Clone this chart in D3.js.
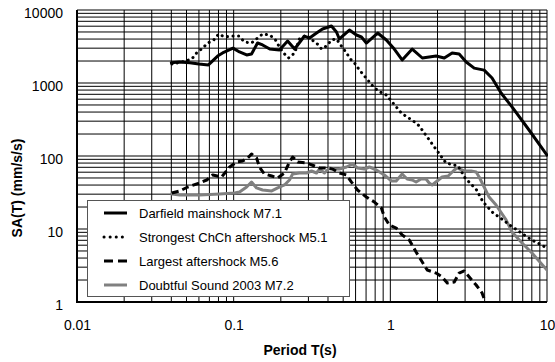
<!DOCTYPE html>
<html><head><meta charset="utf-8">
<script src="https://cdn.jsdelivr.net/npm/d3@7"></script>
<style>
html,body{margin:0;padding:0;background:#fff;}
svg{display:block;font-family:Arial,"Liberation Sans",sans-serif;}
</style></head>
<body>
<svg id="c" width="555" height="362"></svg>
<script>
// ---- data ----
const darfieldT  = [0.04,0.045,0.0525,0.06,0.069,0.079,0.085,0.099,0.109,0.121,0.13,0.142,0.153,0.17,0.182,0.196,0.221,0.245,0.283,0.305,0.338,0.369,0.421,0.453,0.473,0.548,0.607,0.654,0.703,0.83,0.943,1.06,1.19,1.38,1.6,1.96,2.21,2.48,2.75,3.05,3.43,3.97,4.46,5.09,5.98,7.68,10];
const darfieldSA = [1900,1940,1900,1820,1770,2340,2580,3000,2660,2420,2500,3530,3320,2920,2880,2830,3760,2920,4400,4130,4840,5490,6040,5000,4010,5320,4545,4270,3530,4840,3880,2920,2070,2920,2200,2340,2200,2580,2500,1940,1600,1500,1170,730,470,227,103];

const chchT  = [0.0403,0.0467,0.054,0.058,0.0635,0.0683,0.0746,0.0802,0.0877,0.097,0.1076,0.1175,0.13,0.142,0.153,0.17,0.185,0.196,0.208,0.224,0.245,0.263,0.292,0.309,0.338,0.364,0.391,0.421,0.453,0.487,0.525,0.556,0.598,0.635,0.683,0.735,0.791,0.863,0.943,1.015,1.175,1.28,1.40,1.53,1.85,2.27,2.71,3.0,3.53,3.91,4.53,4.94,5.9,7.8,10];
const chchSA = [1820,1940,2130,2580,3015,3530,3880,4690,4270,4400,4400,3645,3530,4130,4690,4545,3880,3110,2580,2200,2580,4010,4545,4010,3530,2920,3210,3880,4010,3210,2580,2130,1820,1507,1247,1032,854,753,685,567,388,342,302,258,146,80,73,50,35,23.4,16.6,14.6,11,7.3,5.5];

const largestT  = [0.0403,0.0453,0.0509,0.0607,0.0673,0.0735,0.0838,0.0943,0.1045,0.114,0.123,0.130,0.140,0.146,0.157,0.175,0.191,0.211,0.227,0.238,0.256,0.292,0.328,0.353,0.391,0.427,0.473,0.525,0.565,0.617,0.703,0.791,0.877,0.916,0.986,1.09,1.19,1.32,1.46,1.57,1.72,1.96,2.14,2.31,2.56,2.75,2.96,3.19,3.53,3.85,4.08];
const largestSA = [31.1,33.2,37.6,42.7,46.9,54.9,51.6,70.7,82.7,85.4,93.9,106.5,93.9,70.7,56.7,53.2,50,58.5,82.7,96.9,82.7,80.2,72.9,68.5,68.5,66.4,58.5,54.9,44,34.2,27.4,23.4,19.4,14.6,11.3,10.3,8.3,7.07,4.84,3.76,2.74,2.49,2.2,1.82,1.88,2.49,2.66,2.2,1.71,1.33,0.95];

const doubtfulT  = [0.0403,0.0453,0.0607,0.0815,0.1015,0.109,0.121,0.130,0.140,0.153,0.175,0.191,0.211,0.227,0.238,0.263,0.292,0.314,0.338,0.353,0.380,0.409,0.440,0.473,0.525,0.573,0.617,0.683,0.735,0.814,0.916,1.015,1.09,1.19,1.28,1.38,1.46,1.57,1.69,1.77,1.85,1.99,2.14,2.34,2.56,2.67,2.96,3.28,3.53,3.69,3.97,4.27,4.73,5.48,5.98,6.93,8.02,10];
const doubtfulSA = [30.2,29.2,29.2,30.2,31.1,32.1,37.6,44,36.5,34.2,33.2,36.5,40.1,46.9,56.7,58.5,58.5,62.3,58.5,66.4,58.5,68.5,66.4,66.4,70.7,77.7,68.5,66.4,70.7,64.3,54.9,45.5,45.5,56.7,48.4,46.9,44,48.4,48.4,42.7,40.1,45.5,51.6,53.2,64.3,68.5,62.3,62.3,60.4,51.6,37.6,27.4,21.3,13.3,9.1,6.43,4.69,2.74];

const xTickVals = [0.01,0.1,1,10];
const xTickLabels = ["0.01","0.1","1","10"];
const yTickVals = [1,10,100,1000,10000];
const yTickLabels = ["1","10","100","1000","10000"];
const legendLabels = ["Darfield mainshock M7.1","Strongest ChCh aftershock M5.1","Largest aftershock M5.6","Doubtful Sound 2003 M7.2"];

// ---- chart ----
const svg = d3.select("#c");
const L=77,R=547,T=10,B=302;
const x = d3.scaleLog().domain([0.01,10]).range([L,R]);
const y = d3.scaleLog().domain([1,10000]).range([B,T]);

// grid values
const gx=[],gy=[];
for(let e=-2;e<1;e++) for(let m=1;m<10;m++) gx.push(m*Math.pow(10,e));
gx.push(10);
for(let e=0;e<4;e++) for(let m=1;m<10;m++) gy.push(m*Math.pow(10,e));
gy.push(10000);

const grid = svg.append("g");
grid.selectAll("line.v").data(gx).enter().append("line")
  .attr("x1",d=>x(d)).attr("x2",d=>x(d)).attr("y1",T).attr("y2",B)
  .attr("stroke","#000").attr("stroke-width",1);
grid.selectAll("line.h").data(gy).enter().append("line")
  .attr("y1",d=>y(d)).attr("y2",d=>y(d)).attr("x1",L).attr("x2",R)
  .attr("stroke","#000").attr("stroke-width",1);

// axes lines
svg.append("line").attr("x1",L).attr("x2",L).attr("y1",T).attr("y2",B+1).attr("stroke","#000").attr("stroke-width",2);
svg.append("line").attr("x1",L-1).attr("x2",R).attr("y1",B).attr("y2",B).attr("stroke","#000").attr("stroke-width",2);

// tick labels
const xa = svg.append("g").attr("transform",`translate(0,${B})`)
  .call(d3.axisBottom(x).tickValues(xTickVals).tickSize(0).tickPadding(18)
    .tickFormat((d,i)=>xTickLabels[i]));
xa.select(".domain").remove();
xa.selectAll("text").attr("font-size",14).attr("font-family","Arial, 'Liberation Sans', sans-serif").attr("fill","#000");

const ya = svg.append("g").attr("transform",`translate(${L},0)`)
  .call(d3.axisLeft(y).tickValues(yTickVals).tickSize(0).tickPadding(14)
    .tickFormat((d,i)=>yTickLabels[i]));
ya.select(".domain").remove();
ya.selectAll("text").attr("font-size",14).attr("dy","0.5em").attr("font-family","Arial, 'Liberation Sans', sans-serif").attr("fill","#000");

// axis titles
svg.append("text").attr("x",300).attr("y",355).attr("text-anchor","middle")
  .attr("font-size",14).attr("font-weight","bold").text("Period T(s)");
svg.append("text").attr("transform","translate(22,188) rotate(-90)").attr("text-anchor","middle")
  .attr("font-size",14).attr("font-weight","bold").text("SA(T) (mm/s/s)");

// clip
svg.append("clipPath").attr("id","clip").append("rect").attr("x",L).attr("y",T).attr("width",R-L+1).attr("height",B-T);
const plot = svg.append("g").attr("clip-path","url(#clip)");
const line = d3.line().x(d=>x(d[0])).y(d=>y(d[1]));

const series = [
  {t:darfieldT, v:darfieldSA, color:"#000", dash:null, cap:"round"},
  {t:chchT, v:chchSA, color:"#000", dash:"0.1,5.5", cap:"round"},
  {t:largestT, v:largestSA, color:"#000", dash:"7,4", cap:"butt"},
  {t:doubtfulT, v:doubtfulSA, color:"#808080", dash:null, cap:"round"}
];
// draw order: doubtful, largest, chch, darfield
[3,2,1,0].forEach(i=>{
  const s=series[i];
  plot.append("path").datum(s.t.map((t,j)=>[t,s.v[j]]))
    .attr("d",line).attr("fill","none").attr("stroke",s.color)
    .attr("stroke-width",3).attr("stroke-linejoin","round")
    .attr("stroke-linecap",s.cap)
    .attr("stroke-dasharray",s.dash);
});

// legend
const lg = svg.append("g");
lg.append("rect").attr("x",87.5).attr("y",200.5).attr("width",262).attr("height",96)
  .attr("fill","#fff").attr("stroke","#555").attr("stroke-width",1);
const rows=[213,237,261,285];
series.forEach((s,i)=>{
  lg.append("line").attr("x1",104).attr("x2",127).attr("y1",rows[i]).attr("y2",rows[i])
    .attr("stroke",s.color).attr("stroke-width",3)
    .attr("stroke-linecap",s.cap==="round"&&s.dash?"round":"butt")
    .attr("stroke-dasharray",i===1?"0.1,6":(i===2?"9,5":null));
  lg.append("text").attr("x",139).attr("y",rows[i]).attr("dy","0.35em")
    .attr("font-size",13).text(legendLabels[i]);
});
</script>
</body></html>
